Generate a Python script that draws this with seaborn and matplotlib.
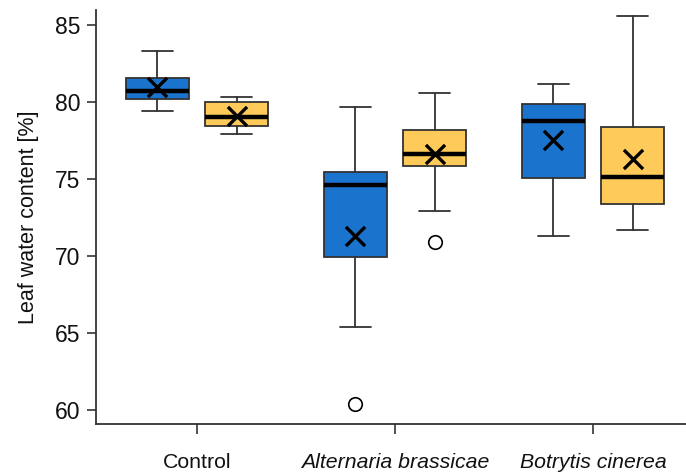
import pandas as pd
import matplotlib
matplotlib.use("Agg")
import matplotlib.pyplot as plt
import seaborn as sns

groups = ["Control", "Alternaria brassicae", "Botrytis cinerea"]

blue_whislo = [79.44, 65.39, 71.32]
blue_q1 = [80.19, 69.96, 75.08]
blue_med = [80.73, 74.60, 78.77]
blue_q3 = [81.54, 75.45, 79.89]
blue_whishi = [83.31, 79.70, 81.15]
blue_mean = [81.00, 71.32, 77.53]
blue_fliers = [[], [60.43], []]

orange_whislo = [77.90, 72.92, 71.71]
orange_q1 = [78.46, 75.84, 73.40]
orange_med = [79.05, 76.64, 75.13]
orange_q3 = [80.00, 78.16, 78.40]
orange_whishi = [80.32, 80.60, 85.60]
orange_mean = [79.09, 76.60, 76.30]
orange_fliers = [[], [70.90], []]

blue = "#1a73cc"
orange = "#fecb5a"
edge = "#333333"

sns.set_style("ticks")
plt.rcParams['font.family'] = ['Liberation Sans', 'DejaVu Sans']
plt.rcParams['text.color'] = "#111111"
plt.rcParams['axes.labelcolor'] = "#111111"
plt.rcParams['xtick.labelcolor'] = "#111111"
plt.rcParams['ytick.labelcolor'] = "#111111"

fig = plt.figure(figsize=(6.86, 4.72), dpi=100)
ax = fig.add_axes([0.14, 0.1017, 0.86, 0.877])


def make_stats(whislo, q1, med, q3, whishi):
    return [dict(whislo=a, q1=b, med=c, q3=d, whishi=e, fliers=[])
            for a, b, c, d, e in zip(whislo, q1, med, q3, whishi)]


series = [
    (make_stats(blue_whislo, blue_q1, blue_med, blue_q3, blue_whishi), blue, -0.2),
    (make_stats(orange_whislo, orange_q1, orange_med, orange_q3, orange_whishi), orange, 0.2),
]

for stats, color, off in series:
    pos = [i + off for i in range(len(groups))]
    ax.bxp(stats, positions=pos, widths=0.32, capwidths=0.16, patch_artist=True,
           showfliers=False, manage_ticks=False,
           boxprops=dict(facecolor=color, edgecolor=edge, linewidth=1.3),
           medianprops=dict(color="black", linewidth=3.2),
           whiskerprops=dict(color=edge, linewidth=1.3),
           capprops=dict(color=edge, linewidth=1.3))

# means and outliers
rows = []
flier_rows = []
for i in range(len(groups)):
    rows.append({"x": i - 0.2, "y": blue_mean[i]})
    rows.append({"x": i + 0.2, "y": orange_mean[i]})
    for v in blue_fliers[i]:
        flier_rows.append({"x": i - 0.2, "y": v})
    for v in orange_fliers[i]:
        flier_rows.append({"x": i + 0.2, "y": v})
means = pd.DataFrame(rows)
fliers = pd.DataFrame(flier_rows)

sns.scatterplot(data=means, x="x", y="y", marker="x", s=190, color="black",
                linewidth=2.4, ax=ax, zorder=5)
sns.scatterplot(data=fliers, x="x", y="y", marker="o", s=95, facecolor="white",
                edgecolor="black", linewidth=1.2, ax=ax, zorder=5)

ax.set_xlim(-0.51, 2.47)
ax.set_ylim(59.1, 85.97)
ax.set_yticks([60, 65, 70, 75, 80, 85])
ax.set_xticks(range(len(groups)))
ax.set_xticklabels(groups)
for lab in ax.get_xticklabels()[1:]:
    lab.set_fontstyle("italic")

ax.set_xlabel("")
ax.set_ylabel("Leaf water content [%]", fontsize=15.5, labelpad=11)
ax.tick_params(axis="y", labelsize=16.5, length=6.5, width=1.2, color=edge, pad=5)
ax.tick_params(axis="x", labelsize=15.3, length=7, width=1.2, color=edge, pad=14)

for side in ["top", "right"]:
    ax.spines[side].set_visible(False)
for side in ["left", "bottom"]:
    ax.spines[side].set_color(edge)
    ax.spines[side].set_linewidth(1.3)

fig.savefig("out.png", dpi=100)
